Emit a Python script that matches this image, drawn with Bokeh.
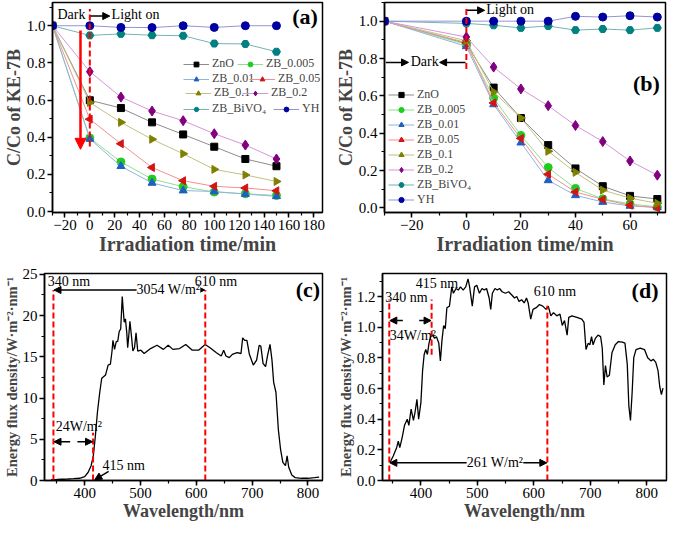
import math
from bokeh.plotting import figure
from bokeh.layouts import column, row
from bokeh.models import (Range1d, Legend, LegendItem, Arrow, NormalHead, Label,
                          SingleIntervalTicker, PrintfTickFormatter)
from bokeh.embed import file_html
from bokeh.resources import INLINE

FONT = "Liberation Serif"

# ---------------- data ----------------
series_names = ["ZnO", "ZB_0.005", "ZB_0.01", "ZB_0.05", "ZB_0.1", "ZB_0.2", "ZB_BiVO\u2084", "YH"]

time_a = [-30, 0, 25, 50, 75, 100, 125, 150]
a_ZnO = [1.0, 0.599, 0.557, 0.480, 0.415, 0.349, 0.283, 0.244]
a_ZB005 = [1.0, 0.396, 0.267, 0.175, 0.134, 0.105, 0.096, 0.087]
a_ZB01 = [1.0, 0.391, 0.244, 0.154, 0.113, 0.108, 0.094, 0.082]
a_ZB05 = [1.0, 0.497, 0.365, 0.237, 0.166, 0.136, 0.127, 0.112]
a_ZB1 = [1.0, 0.587, 0.480, 0.389, 0.311, 0.227, 0.197, 0.162]
a_ZB2 = [1.0, 0.753, 0.616, 0.541, 0.489, 0.419, 0.358, 0.283]
a_BiVO4 = [1.0, 0.948, 0.956, 0.949, 0.946, 0.904, 0.902, 0.860]
a_YH = [1.0, 1.0, 0.991, 0.990, 1.0, 0.991, 1.0, 1.0]

time_b = [-30, 0, 10, 20, 30, 40, 50, 60, 70]
b_ZnO = [1.0, 0.880, 0.644, 0.481, 0.336, 0.211, 0.116, 0.064, 0.047]
b_ZB005 = [1.0, 0.875, 0.588, 0.388, 0.216, 0.104, 0.048, 0.021, 0.005]
b_ZB01 = [1.0, 0.865, 0.554, 0.349, 0.147, 0.067, 0.031, 0.010, 0.003]
b_ZB05 = [1.0, 0.885, 0.562, 0.372, 0.180, 0.085, 0.045, 0.014, 0.0]
b_ZB1 = [1.0, 0.895, 0.621, 0.481, 0.303, 0.190, 0.095, 0.052, 0.024]
b_ZB2 = [1.0, 0.915, 0.754, 0.637, 0.547, 0.441, 0.355, 0.251, 0.175]
b_BiVO4 = [1.0, 0.988, 0.978, 0.964, 0.974, 0.952, 0.958, 0.952, 0.964]
b_YH = [1.0, 1.0, 1.0, 1.0, 1.0, 1.026, 1.022, 1.029, 1.022]

c_wl = [340, 350, 360, 370, 380, 391, 400, 406, 411.5, 415.5,
        419, 423, 427, 430.5, 437.4, 442, 446, 449, 450.6, 453.5,
        456.4, 459.3, 461.6, 464.5, 467.3, 469, 470.8, 473, 475.4, 477,
        478.9, 481, 483.5, 486.3, 489.2, 492, 495, 500.7, 506.5, 518,
        529.5, 541, 549.6, 558, 570, 581, 592.8, 604, 615.8, 624.5,
        636, 644.6, 649, 653, 659, 664.5, 673, 680, 683, 686.6,
        690.6, 695, 702, 708, 712.6, 715.5, 719.5, 724, 728, 732,
        735.5, 738.5, 742.6, 747, 751, 755, 759.7, 762.6, 765.5, 771,
        777, 788.5, 800, 811.5, 820]
c_flux = [0.10, 0.12, 0.15, 0.18, 0.22, 0.27, 0.46, 0.97, 1.8, 3.0,
          5.3, 8.4, 10.7, 12.4, 12.8, 14.0, 14.1, 15.7, 17.0, 15.9,
          16.8, 16.9, 18.0, 18.4, 22.3, 20.7, 19.2, 19.6, 17.9, 16.1,
          17.5, 19.3, 17.7, 15.7, 16.1, 17.9, 15.7, 15.8, 15.4, 16.0,
          16.4, 15.9, 16.4, 15.9, 16.0, 16.5, 15.8, 15.8, 16.5, 16.1,
          15.5, 15.1, 15.8, 15.1, 14.9, 15.3, 15.5, 15.4, 17.3, 17.0,
          17.0, 15.3, 14.0, 14.6, 16.4, 16.3, 14.2, 13.8, 15.3, 16.5,
          14.6, 11.9, 10.7, 6.1, 3.7, 2.2, 1.8, 3.0, 1.6, 0.66,
          0.35, 0.27, 0.27, 0.35, 0.42]

d_wl = [345.3, 351, 357, 360, 362.6, 366.6, 371, 375.8, 378.7, 382.7,
        386.8, 389.6, 393, 396, 400, 403, 405.8, 408.6, 411.5, 414.4,
        417.3, 421.3, 424.2, 427.6, 431.7, 434.5, 437.4, 440.3, 443.2, 446,
        450.6, 454.7, 457.6, 462.2, 466.2, 470.2, 474.8, 479.4, 483.5, 486.3,
        491, 495, 499, 503.6, 508.2, 512.2, 516.3, 520.9, 523.7, 526.6,
        531.2, 535.3, 539.3, 543.9, 549.6, 555.4, 561, 565.8, 569.8, 573.8,
        578.4, 583, 587, 590, 594.5, 598.6, 604.3, 610, 615.8, 621.6,
        625.6, 630.2, 634.8, 640.6, 646.3, 650.4, 654.4, 659, 661.9, 667.6,
        676.3, 685, 688.9, 692.4, 696.4, 699.3, 702.2, 705, 709, 713.7,
        718.3, 721.2, 724, 726.9, 729.8, 733.8, 738.4, 744.2, 749.9, 756.8,
        761.4, 765.5, 768.3, 771.2, 774.1, 777, 781, 788.5, 796, 801.7,
        807.5, 811.5, 816, 820, 823, 826, 828.8]
d_flux = [0.117, 0.16, 0.214, 0.256, 0.214, 0.277, 0.36, 0.40, 0.36, 0.466,
          0.392, 0.445, 0.529, 0.40, 0.508, 0.717, 0.822, 0.854, 0.822, 0.896,
          0.938, 0.948, 0.927, 0.938, 0.896, 0.78, 0.917, 1.011, 0.99, 1.127,
          1.137, 1.263, 1.221, 1.252, 1.242, 1.263, 1.242, 1.263, 1.315, 1.263,
          1.137, 1.263, 1.273, 1.221, 1.252, 1.242, 1.252, 1.19, 1.116, 1.221,
          1.252, 1.242, 1.252, 1.231, 1.221, 1.231, 1.21, 1.19, 1.2, 1.168,
          1.179, 1.158, 1.19, 1.158, 1.053, 1.116, 1.127, 1.148, 1.137, 1.116,
          1.137, 1.074, 1.095, 1.074, 1.085, 1.011, 1.043, 0.948, 1.064, 1.074,
          1.064, 1.053, 1.032, 0.854, 0.896, 0.885, 0.938, 0.885, 0.927, 0.948,
          0.938, 0.864, 0.623, 0.749, 0.675, 0.686, 0.833, 0.885, 0.906, 0.902,
          0.896, 0.759, 0.487, 0.392, 0.571, 0.801, 0.854, 0.864, 0.854, 0.801,
          0.780, 0.791, 0.77, 0.717, 0.613, 0.56, 0.602]

# annotation positions (nm)
c_marks = [344, 415, 616]
d_marks = [344, 419, 624]

# ---------------- styles ----------------
marker_colors = ["#000000", "#1fcc1f", "#1f5fbf", "#d41414", "#808000", "#800080", "#008080", "#0000a0"]
line_colors = ["#8c8c8c", "#8fe08f", "#92b2e2", "#f09090", "#c2c282", "#d596d5", "#74b4b4", "#9494d4"]
marker_types = ["square", "circle", "triangle", "triangle", "triangle", "diamond", "hex", "circle"]
marker_angles = [0, 0, 0, math.pi / 2, -math.pi / 2, 0, 0, 0]
marker_sizes = [7, 8, 8, 8, 8, 10, 8, 8]


def make_fig(w, h, xr, yr, borders, xint, yint, xlabel, ylabel, xls, yls, yfmt=None):
    p = figure(width=w, height=h, x_range=Range1d(*xr), y_range=Range1d(*yr),
               output_backend="svg", toolbar_location=None,
               min_border_left=borders[0], min_border_right=borders[1],
               min_border_top=borders[2], min_border_bottom=borders[3])
    p.grid.visible = False
    p.outline_line_color = "black"
    p.outline_line_width = 1.5
    p.background_fill_color = "white"
    p.border_fill_color = "white"
    p.xaxis.ticker = SingleIntervalTicker(interval=xint, num_minor_ticks=2)
    p.yaxis.ticker = SingleIntervalTicker(interval=yint, num_minor_ticks=2)
    if yfmt:
        p.yaxis.formatter = PrintfTickFormatter(format=yfmt)
    p.xaxis.axis_label = xlabel
    p.yaxis.axis_label = ylabel
    for ax, size in ((p.xaxis[0], xls), (p.yaxis[0], yls)):
        ax.axis_line_width = 1.5
        ax.major_tick_out = 5
        ax.major_tick_in = 0
        ax.minor_tick_out = 3
        ax.minor_tick_in = 0
        ax.major_tick_line_width = 1.5
        ax.minor_tick_line_width = 1.2
        ax.major_label_text_font = FONT
        ax.major_label_text_font_size = "15px"
        ax.major_label_text_color = "black"
        ax.major_label_standoff = 2
        ax.axis_label_text_font = FONT
        ax.axis_label_text_font_style = "bold"
        ax.axis_label_text_font_size = size
        ax.axis_label_standoff = 0
    return p


def plot_series(p, x, ys):
    items = []
    for i, y in enumerate(ys):
        lr = p.line(x, y, line_color=line_colors[i], line_width=1)
        sr = p.scatter(x, y, marker=marker_types[i], angle=marker_angles[i], size=marker_sizes[i],
                       fill_color=marker_colors[i], line_color=marker_colors[i])
        items.append(LegendItem(label=series_names[i], renderers=[lr, sr]))
    return items


def style_legend(leg, gh, sp):
    leg.glyph_width = 26
    leg.glyph_height = gh
    leg.label_height = gh
    leg.label_standoff = 3
    leg.spacing = sp
    leg.padding = 0
    leg.margin = 0
    leg.border_line_alpha = 0
    leg.background_fill_alpha = 0
    leg.label_text_font = FONT
    leg.label_text_font_size = "12px"
    leg.label_text_baseline = "middle"


def label(p, x, y, text, size="14px", align="left", bold=False, bg=None):
    lb = Label(x=x, y=y, text=text, text_font=FONT, text_font_size=size, text_align=align,
               text_baseline="middle", text_font_style="bold" if bold else "normal",
               text_color="black")
    if bg:
        lb.background_fill_color = bg
    p.add_layout(lb)


def arrow(p, x0, y0, x1, y1, color="black", width=1.5, size=8, both=False):
    end = NormalHead(size=size, fill_color=color, line_color=color, line_width=1)
    start = NormalHead(size=size, fill_color=color, line_color=color, line_width=1) if both else None
    p.add_layout(Arrow(start=start, end=end, x_start=x0, y_start=y0, x_end=x1, y_end=y1,
                       line_color=color, line_width=width))


# ---------------- panel (a) ----------------
pa = make_fig(332, 257, (-30, 187), (-0.005, 1.125), (42, 10, 2, 45), 20, 0.2,
              "Irradiation time/min", "C/Co of KE-7B", "20px", "18px", "%.1f")
items_a = plot_series(pa, time_a, [a_ZnO, a_ZB005, a_ZB01, a_ZB05, a_ZB1, a_ZB2, a_BiVO4, a_YH])
# legend entries laid out in four rows of two, each entry placed on its own
legend_a_pos = [(131, 141), (185, 141), (131, 126), (197, 126),
                (133, 112), (190, 112), (131, 96), (221, 96)]
for it, loc in zip(items_a, legend_a_pos):
    leg = Legend(items=[it], orientation="horizontal", location=loc)
    style_legend(leg, 12, 0)
    pa.add_layout(leg)
pa.segment(x0=[0], y0=[0.35], x1=[0], y1=[1.09], line_color="red", line_dash="6 3", line_width=2)
arrow(pa, 0.5, 1.052, 16, 1.052, size=7)
arrow(pa, -7.5, 0.975, -7.5, 0.335, color="red", width=2.5, size=11)
label(pa, -26, 1.063, "Dark")
label(pa, 17.5, 1.063, "Light on")
label(pa, 173, 1.05, "(a)", size="22px", align="center", bold=True)

# ---------------- panel (b) ----------------
pb = make_fig(337, 257, (-30, 73), (-0.025, 1.1), (50, 4, 2, 45), 20, 0.2,
              "Irradiation time/min", "C/Co of KE-7B", "20px", "18px", "%.1f")
items_b = plot_series(pb, time_b, [b_ZnO, b_ZB005, b_ZB01, b_ZB05, b_ZB1, b_ZB2, b_BiVO4, b_YH])
leg_b = Legend(items=items_b, orientation="vertical", location=(4, 5))
style_legend(leg_b, 13, 0)
pb.add_layout(leg_b)
pb.segment(x0=[0], y0=[0.744], x1=[0], y1=[1.07], line_color="red", line_dash="6 3", line_width=2)
arrow(pb, 0.3, 1.058, 6.7, 1.058, size=7)
label(pb, 7.3, 1.06, "Light on")
label(pb, -20.4, 0.782, "Dark")
arrow(pb, -29.5, 0.779, -21.2, 0.779, size=7)
arrow(pb, -0.3, 0.779, -9.8, 0.779, size=7)
label(pb, 66, 0.666, "(b)", size="22px", align="center", bold=True)

# ---------------- panel (c) ----------------
ylab_e = "Energy flux density/W\u00b7m\u207b\u00b2\u00b7nm\u207b\u00b9"
pc = make_fig(332, 268, (328, 826), (0, 25.1), (38, 10, 16, 45), 100, 5,
              "Wavelength/nm", ylab_e, "18px", "14.5px")
pc.line(c_wl, c_flux, line_color="black", line_width=1.3)
pc.segment(x0=c_marks, y0=[0, 0, 0], x1=c_marks, y1=[23.1, 5.8, 23.1],
           line_color="red", line_dash="6 3", line_width=2)
arrow(pc, c_marks[0] + 1, 23.1, c_marks[2] - 1, 23.1, size=7, both=True)
label(pc, 493, 23.1, "3054 W/m\u00b2", bg="white")
label(pc, 334, 24.15, "340 nm")
label(pc, 597, 24.15, "610 nm")
label(pc, 800, 23.1, "(c)", size="22px", align="center", bold=True)
label(pc, 348, 6.5, "24W/m\u00b2")
arrow(pc, 374, 4.7, c_marks[0] + 1, 4.7, size=7)
arrow(pc, 387, 4.7, c_marks[1] - 1, 4.7, size=7)
label(pc, 432, 1.85, "415 nm")
arrow(pc, 443, 1.1, 418, 0.1, size=7)

# ---------------- panel (d) ----------------
pd_ = make_fig(337, 268, (332, 835), (0, 1.35), (50, 3, 15, 44), 100, 0.2,
               "Wavelength/nm", ylab_e, "18px", "14.5px", "%.1f")
pd_.line(d_wl, d_flux, line_color="black", line_width=1.3)
pd_.segment(x0=d_marks, y0=[0, 0.82, 0], x1=d_marks, y1=[1.18, 1.18, 1.14],
            line_color="red", line_dash="6 3", line_width=2)
arrow(pd_, 368, 1.043, d_marks[0] + 1, 1.043, size=7)
arrow(pd_, 397, 1.043, d_marks[1] - 1, 1.043, size=7)
label(pd_, 345, 0.948, "34W/m\u00b2")
label(pd_, 337, 1.196, "340 nm")
label(pd_, 391, 1.284, "415 nm")
label(pd_, 600, 1.231, "610 nm")
arrow(pd_, d_marks[0] + 1, 0.115, d_marks[2] - 1, 0.115, size=7, both=True)
label(pd_, 481, 0.115, "261 W/m\u00b2", bg="white")
label(pd_, 797, 1.242, "(d)", size="22px", align="center", bold=True)

layout = column(row(pa, pb), row(pc, pd_))
open("out.html", "w").write(file_html(layout, INLINE))
